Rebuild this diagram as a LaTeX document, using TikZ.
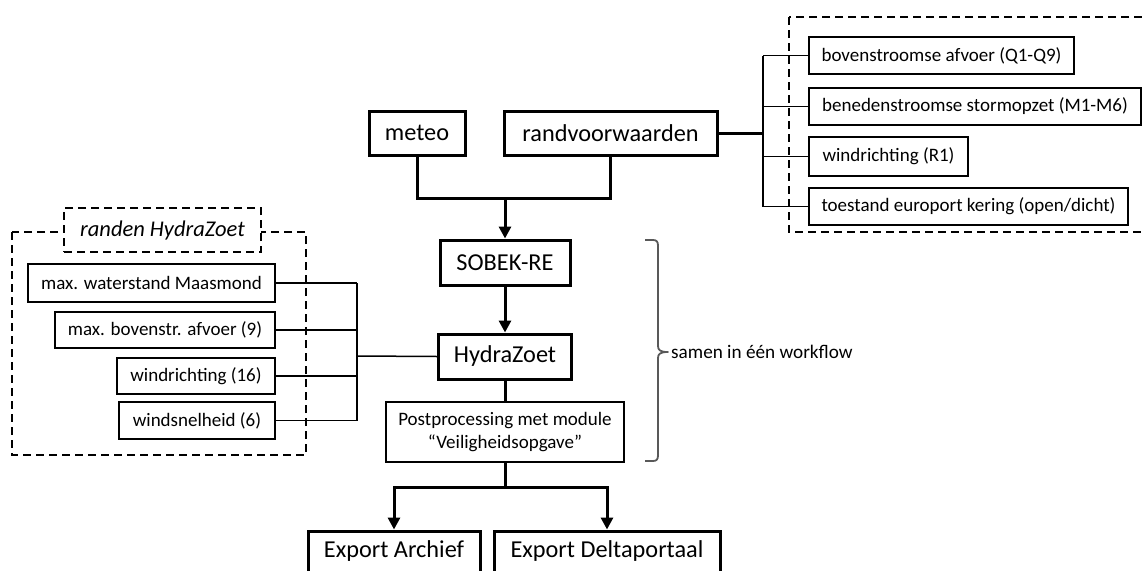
\documentclass[tikz,border=0pt]{standalone}
\usepackage{fontspec}
\setmainfont{Carlito}
\usetikzlibrary{arrows.meta}
\tikzset{
  big/.style={draw, line width=3pt, font=\fontsize{24.3}{28}\selectfont, inner sep=0pt, align=center},
  small/.style={draw, line width=1.5pt, font=\fontsize{19}{22.5}\selectfont, inner sep=0pt, align=center},
  thickline/.style={line width=3pt},
  thinline/.style={line width=1.5pt},
  arr/.style={line width=3pt, -{Triangle[length=12pt,width=12pt]}},
  dashbox/.style={draw, line width=1.5pt, dash pattern=on 8pt off 5pt},
}
\begin{document}
\begin{tikzpicture}[x=1pt,y=-1pt]
\useasboundingbox (0,0) rectangle (1142,570);
\clip (0,0) rectangle (1142,570);
% dashed groups
\draw[dashbox] (789,17) rectangle (1160,232);
\draw[dashbox] (12,232) rectangle (306,455);
% main nodes
\node[big, minimum width=96pt, minimum height=44pt] (meteo) at (417,133) {meteo};
\node[big, minimum width=213pt, minimum height=44pt] (randv) at (610.5,133) {randvoorwaarden};
\node[big, minimum width=130pt, minimum height=45pt] (sobek) at (505,262.5) {SOBEK-RE};
\node[big, minimum width=133pt, minimum height=45pt] (hydra) at (505,356.5) {HydraZoet};
\node[small, fill=white, minimum width=238pt, minimum height=60pt] (post) at (505,432) {Postprocessing met module\\[1pt]\char"201C Veiligheidsopgave\char"201D};
\node[big, minimum width=172pt, minimum height=48pt] (exparch) at (394,555) {\raisebox{12pt}{Export Archief}};
\node[big, minimum width=226pt, minimum height=48pt] (expdelta) at (607,555) {\raisebox{12pt}{Export Deltaportaal}};
% right boxes
\node[small, fill=white, minimum width=265pt, minimum height=37pt] (bov) at (941.5,55.5) {bovenstroomse afvoer (Q1-Q9)};
\node[small, fill=white, minimum width=332pt, minimum height=37pt] (ben) at (975,106.5) {benedenstroomse stormopzet (M1-M6)};
\node[small, fill=white, minimum width=159pt, minimum height=39pt] (wrr) at (888.5,156.5) {windrichting (R1)};
\node[small, fill=white, minimum width=319pt, minimum height=37pt] (toe) at (968.5,206.5) {toestand europort kering (open/dicht)};
% left boxes
\node[small, fill=white, minimum width=247pt, minimum height=38pt] (mw) at (151.5,283) {max. waterstand Maasmond};
\node[small, fill=white, minimum width=220pt, minimum height=36pt] (mb) at (165,330) {max. bovenstr. afvoer (9)};
\node[small, fill=white, minimum width=158pt, minimum height=36pt] (wrl) at (196,376) {windrichting (16)};
\node[small, fill=white, minimum width=156pt, minimum height=37pt] (ws) at (197,420.5) {windsnelheid (6)};
\node[dashbox, fill=white, minimum width=197pt, minimum height=44pt, inner sep=0pt, font=\fontsize{22.5}{26}\selectfont\itshape] (lbl) at (162.5,230) {randen HydraZoet};
% workflow brace label
\node[font=\fontsize{19.2}{22.5}\selectfont, anchor=west, inner sep=0pt] (wf) at (671,352) {samen in één workflow};
% junctions
\coordinate (j1) at (505,198);
\coordinate (j2) at (505,487);
\coordinate (rv) at (763,133);
\coordinate (lv) at (357,356);
% connectors main
\draw[thickline] (meteo.south) |- (j1) -| (randv.south);
\draw[arr] (j1) -- (sobek.north);
\draw[arr] (sobek.south) -- (hydra.north);
\draw[thickline] (hydra.south) -- (post.north);
\draw[thickline] (post.south) -- (j2);
\draw[arr] (j2) -| (exparch.north);
\draw[arr] (j2) -| (expdelta.north);
% right fan
\draw[thickline] (randv.east) -- (rv);
\draw[thinline] (rv |- bov.west) -- (rv |- toe.west);
\draw[thinline] (rv |- bov.west) -- (bov.west);
\draw[thinline] (rv |- ben.west) -- (ben.west);
\draw[thinline] (rv |- wrr.west) -- (wrr.west);
\draw[thinline] (rv |- toe.west) -- (toe.west);
% left fan
\draw[thinline] (lv |- mw.east) -- (lv |- ws.east);
\draw[thinline] (mw.east) -- (lv |- mw.east);
\draw[thinline] (mb.east) -- (lv |- mb.east);
\draw[thinline] (wrl.east) -- (lv |- wrl.east);
\draw[thinline] (ws.east) -- (lv |- ws.east);
\draw[thinline] (lv) -- (hydra.west);
% brace
\draw[line width=1.8pt, color=black!65, line join=round]
  (645,240) -- (653,240) .. controls (657,240) and (658,242) .. (658,246)
  -- (658,346) .. controls (658,350) and (660,352) .. (668,352)
  .. controls (660,352) and (658,354) .. (658,358)
  -- (658,455) .. controls (658,459) and (657,461) .. (653,461) -- (645,461);
\end{tikzpicture}
\end{document}
